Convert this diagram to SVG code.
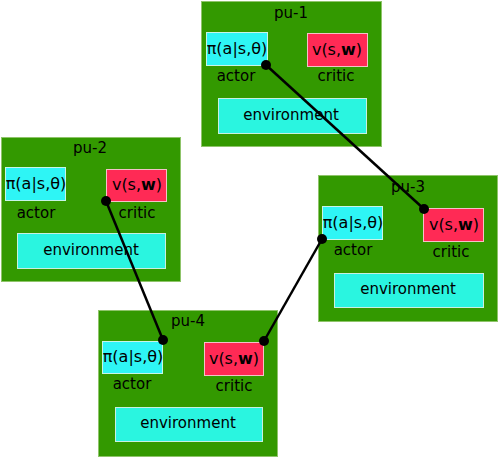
<svg xmlns="http://www.w3.org/2000/svg" width="499" height="457" viewBox="0 0 499 457">
<style>
.pu{fill:#339900;stroke:#8fc46a;stroke-width:1}
.actor{fill:#2ef5f5;stroke:#c8f5e8;stroke-width:1}
.critic{fill:#ff2a55;stroke:#f3c2c8;stroke-width:1}
.env{fill:#2af5e0;stroke:#c8f0e0;stroke-width:1}
text{font-family:"DejaVu Sans",sans-serif;font-size:15px;fill:#000;text-anchor:middle}
text.f{font-size:16px}
.conn line{stroke:#000;stroke-width:2.5}
.conn circle{fill:#000}
</style>
<rect width="499" height="457" fill="#fff"/>
<g id="pu-1">
<rect class="pu" x="201.5" y="1.5" width="180" height="145"/>
<text x="291" y="18">pu-1</text>
<rect class="actor" x="206.5" y="32.5" width="61" height="33"/>
<text class="f" x="237" y="54">π(a|s,θ)</text>
<text x="236" y="81">actor</text>
<rect class="critic" x="307.5" y="33.5" width="60" height="33"/>
<text class="f" x="337" y="55">v(s,<tspan font-weight="bold">w</tspan>)</text>
<text x="336" y="81">critic</text>
<rect class="env" x="218.5" y="98.5" width="148" height="35"/>
<text x="291" y="120">environment</text>
</g>
<g id="pu-2">
<rect class="pu" x="1.5" y="137.5" width="179" height="144"/>
<text x="90" y="153">pu-2</text>
<rect class="actor" x="5.5" y="167.5" width="60" height="33"/>
<text class="f" x="36" y="189">π(a|s,θ)</text>
<text x="36" y="218">actor</text>
<rect class="critic" x="106.5" y="169.5" width="60" height="32"/>
<text class="f" x="137" y="190">v(s,<tspan font-weight="bold">w</tspan>)</text>
<text x="137" y="218">critic</text>
<rect class="env" x="17.5" y="233.5" width="148" height="35"/>
<text x="91" y="255">environment</text>
</g>
<g id="pu-3">
<rect class="pu" x="318.5" y="175.5" width="179" height="146"/>
<text x="408" y="192">pu-3</text>
<rect class="actor" x="322.5" y="206.5" width="60" height="33"/>
<text class="f" x="353" y="228">π(a|s,θ)</text>
<text x="353" y="255">actor</text>
<rect class="critic" x="423.5" y="208.5" width="60" height="33"/>
<text class="f" x="454" y="230">v(s,<tspan font-weight="bold">w</tspan>)</text>
<text x="451" y="257">critic</text>
<rect class="env" x="334.5" y="273.5" width="149" height="34"/>
<text x="408" y="294">environment</text>
</g>
<g id="pu-4">
<rect class="pu" x="98.5" y="310.5" width="179" height="146"/>
<text x="188" y="326">pu-4</text>
<rect class="actor" x="102.5" y="341.5" width="60" height="32"/>
<text class="f" x="133" y="362">π(a|s,θ)</text>
<text x="132" y="389">actor</text>
<rect class="critic" x="204.5" y="342.5" width="59" height="33"/>
<text class="f" x="234" y="364">v(s,<tspan font-weight="bold">w</tspan>)</text>
<text x="234" y="391">critic</text>
<rect class="env" x="115.5" y="407.5" width="147" height="34"/>
<text x="188" y="428">environment</text>
</g>
<g id="connectors" class="conn">
<line x1="266" y1="65" x2="424" y2="209"/>
<circle cx="266" cy="65" r="5"/>
<circle cx="424" cy="209" r="5"/>
<line x1="106" y1="201" x2="163" y2="340"/>
<circle cx="106" cy="201" r="5"/>
<circle cx="163" cy="340" r="5"/>
<line x1="322" y1="239" x2="264" y2="341"/>
<circle cx="322" cy="239" r="5"/>
<circle cx="264" cy="341" r="5"/>
</g>
</svg>
